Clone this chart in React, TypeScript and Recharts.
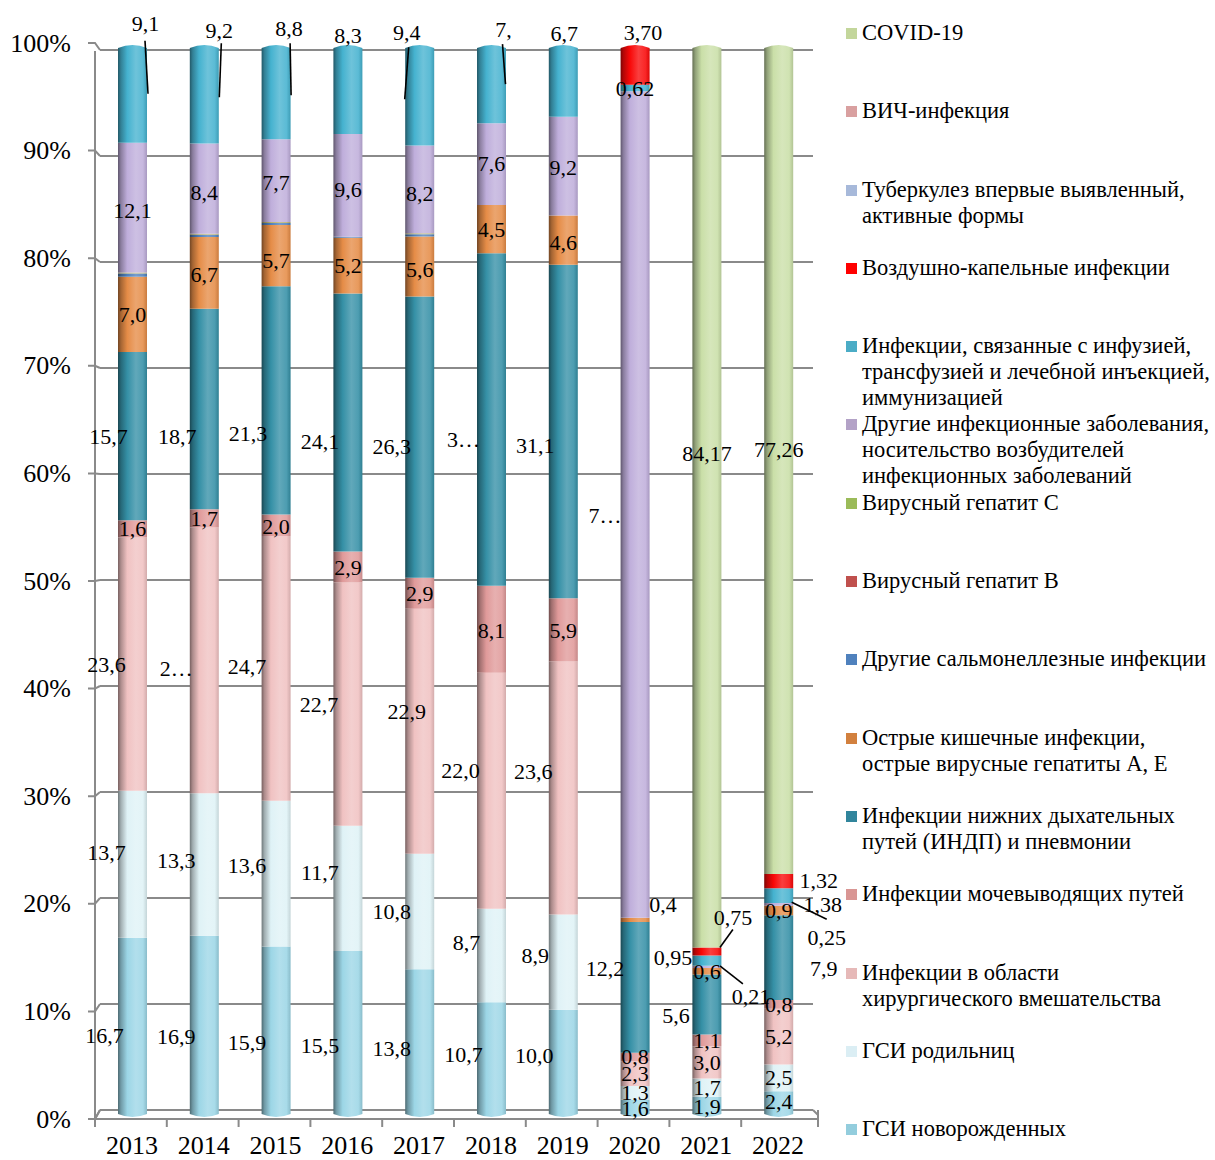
import React from 'react';
import { BarChart, Bar, XAxis, YAxis, CartesianGrid, LabelList, Legend } from 'recharts';

// ---- data: share of each infection group, % of all cases per year ----
const YEARS = ['2013', '2014', '2015', '2016', '2017', '2018', '2019', '2020', '2021', '2022'];

const NEWBORN = [16.7, 16.9, 15.9, 15.5, 13.8, 10.7, 10.0, 1.6, 1.9, 2.4];
const MOTHERS = [13.7, 13.3, 13.6, 11.7, 10.8, 8.7, 8.9, 1.3, 1.7, 2.5];
const SURGICAL = [23.6, 24.8, 24.7, 22.7, 22.9, 22.0, 23.6, 2.3, 3.0, 5.2];
const URINARY = [1.6, 1.7, 2.0, 2.9, 2.9, 8.1, 5.9, 0.8, 1.1, 0.8];
const LOWER_RESP = [15.7, 18.7, 21.3, 24.1, 26.3, 31.0, 31.1, 12.2, 5.6, 7.9];
const INTESTINAL = [7.0, 6.7, 5.7, 5.2, 5.6, 4.5, 4.6, 0.4, 0.6, 0.9];
const SALMONELLA = [0.3, 0.2, 0.2, 0.1, 0.2, 0, 0, 0, 0, 0];
const HEPATITIS_B = [0, 0, 0, 0, 0, 0, 0, 0, 0, 0];
const HEPATITIS_C = [0.1, 0.1, 0.1, 0, 0.1, 0, 0, 0, 0, 0];
const OTHER = [12.1, 8.4, 7.7, 9.6, 8.2, 7.6, 9.2, 77.1, 0.21, 0.25];
const INFUSION = [9.1, 9.2, 8.8, 8.3, 9.4, 7.3, 6.7, 0.62, 0.95, 1.38];
const AIRBORNE = [0, 0, 0, 0, 0, 0, 0, 3.7, 0.75, 1.32];
const TUBERCULOSIS = [0, 0, 0, 0, 0, 0, 0, 0, 0, 0];
const HIV = [0, 0, 0, 0, 0, 0, 0, 0, 0, 0];
const COVID = [0, 0, 0, 0, 0, 0, 0, 0, 84.17, 77.26];

const Y_TICKS = [0, 0.1, 0.2, 0.3, 0.4, 0.5, 0.6, 0.7, 0.8, 0.9, 1];

// stacking order, bottom first
const SERIES = [
  { key: 'newborn', name: 'ГСИ новорожденных', values: NEWBORN, legend: '#93cddd', bar: '#9cd6e6' },
  { key: 'mothers', name: 'ГСИ родильниц', values: MOTHERS, legend: '#dbeef4', bar: '#dff2f6' },
  { key: 'surgical', name: 'Инфекции в области\nхирургического вмешательства', values: SURGICAL, legend: '#e6b9b8', bar: '#f0c2c2' },
  { key: 'urinary', name: 'Инфекции мочевыводящих путей', values: URINARY, legend: '#d99694', bar: '#e09a9a' },
  { key: 'lowerResp', name: 'Инфекции нижних дыхательных\nпутей (ИНДП) и пневмонии', values: LOWER_RESP, legend: '#31859c', bar: '#3590a6' },
  { key: 'intestinal', name: 'Острые кишечные инфекции,\nострые вирусные гепатиты А, Е', values: INTESTINAL, legend: '#d2803e', bar: '#e58c47' },
  { key: 'salmonella', name: 'Другие сальмонеллезные инфекции', values: SALMONELLA, legend: '#4f81bd', bar: '#4f81bd' },
  { key: 'hepB', name: 'Вирусный гепатит В', values: HEPATITIS_B, legend: '#c0504d', bar: '#c0504d' },
  { key: 'hepC', name: 'Вирусный гепатит С', values: HEPATITIS_C, legend: '#9bbb59', bar: '#b8b070' },
  { key: 'other', name: 'Другие инфекционные заболевания,\nносительство возбудителей\nинфекционных заболеваний', values: OTHER, legend: '#b3a2c7', bar: '#bfaedb' },
  { key: 'infusion', name: 'Инфекции, связанные с инфузией,\nтрансфузией и лечебной инъекцией,\nиммунизацией', values: INFUSION, legend: '#4bacc6', bar: '#45b2cf' },
  { key: 'airborne', name: 'Воздушно-капельные инфекции', values: AIRBORNE, legend: '#ff0000', bar: '#f80808' },
  { key: 'tb', name: 'Туберкулез впервые выявленный,\nактивные формы', values: TUBERCULOSIS, legend: '#a7b9da', bar: '#95b3d7' },
  { key: 'hiv', name: 'ВИЧ-инфекция', values: HIV, legend: '#d9a0a0', bar: '#d99694' },
  { key: 'covid', name: 'COVID-19', values: COVID, legend: '#c3d69b', bar: '#cadfa8' },
];

const ROWS = YEARS.map((year, i) => {
  const row: Record<string, string | number> = { year };
  SERIES.forEach((s) => {
    row[s.key] = s.values[i];
  });
  return row;
});

// ---- layout ----
const W = 1215;
const H = 1160;
const PLOT_LEFT = 97;
const PLOT_RIGHT = 815;
const PLOT_TOP = 45;
const PLOT_BOTTOM = 1117;
const WALL_TOP = 50;
const WALL_BOTTOM = 1110;
const AXIS_TOP = 43;
const AXIS_BOTTOM = 1119;
const BAND = (PLOT_RIGHT - PLOT_LEFT) / YEARS.length;
const GRID = '#8a8a8a';
const FONT = '"Liberation Serif", "Times New Roman", serif';

const toWall = (y: number) => WALL_TOP + ((y - PLOT_TOP) * (WALL_BOTTOM - WALL_TOP)) / (PLOT_BOTTOM - PLOT_TOP);
const toFront = (y: number) => AXIS_TOP + ((y - PLOT_TOP) * (AXIS_BOTTOM - AXIS_TOP)) / (PLOT_BOTTOM - PLOT_TOP);

// ---- data label placement: nudges from the segment centre ----
type Nudge = [number, number];
const LABEL_NUDGE: Record<string, Nudge[]> = {
  newborn: [[-28, 8], [-28, 10], [-29, 11], [-28, 11], [-28, 5], [-28, -5], [-29, -8], [0, 0], [0, 0], [0, -3]],
  mothers: [[-26, -12], [-28, -4], [-29, -8], [-28, -16], [-28, 0], [-25, -13], [-28, -7], [0, 0], [0, 0], [0, 0]],
  surgical: [[-26, 0], [-28, 8], [-29, -2], [-29, 0], [-13, -20], [-31, -20], [-30, -16], [0, 0], [0, 0], [0, 0]],
  urinary: [[0, 0], [0, 0], [0, 1], [0, 0], [0, 0], [0, 1], [0, 1], [0, 0], [0, 0], [0, 0]],
  lowerResp: [[-24, 0], [-27, 28], [-28, 33], [-28, 19], [-28, 9], [-28, 20], [-28, 14], [-30, -19], [-31, 11], [45, 11]],
  intestinal: [[0, 0], [0, 2], [0, 5], [0, 0], [0, 3], [0, 0], [0, 2], [28, -15], [0, 0], [0, 0]],
  other: [[0, 3], [0, 4], [0, 2], [0, 4], [0, 4], [0, -1], [0, 1], [-30, 11], [44, 30], [48, 33]],
  infusion: [[13, -70], [15, -64], [13, -64], [0, -54], [-13, -63], [12, -55], [1, -47], [0, 1], [-34, -3], [44, 9]],
  airborne: [[0, 0], [0, 0], [0, 0], [0, 0], [0, 0], [0, 0], [0, 0], [8, -32], [26, -34], [40, -1]],
  covid: [[0, 0], [0, 0], [0, 0], [0, 0], [0, 0], [0, 0], [0, 0], [0, 0], [0, -43], [0, -10]],
};

// leader lines [x1, y1, x2, y2] relative to the segment centre
type Leader = [number, number, number, number] | null;
const LEADERS: Record<string, Leader[]> = {
  infusion: [[12.5, -53, 15.5, 0], [17, -51, 15, 3], [14, -49, 15, 3], null, [-11, -48, -15, 4], [11, -40, 14, 0], null, null, null, null],
  airborne: [null, null, null, null, null, null, null, null, [13, -4, 26, -22], null],
  other: [null, null, null, null, null, null, null, null, [13, -1, 36, 17], [13, -2, 48, 15]],
};

// labels shortened where they did not fit
const LABEL_TEXT: Record<string, string> = {
  'surgical:1': '2…',
  'lowerResp:5': '3…',
  'infusion:5': '7,',
  'other:7': '7…',
};

const decimals = (key: string, i: number) => {
  if (key === 'covid' || key === 'airborne') return 2;
  if (key === 'infusion' && i >= 7) return 2;
  if (key === 'other' && i >= 8) return 2;
  return 1;
};

const formatValue = (v: number, digits: number) => v.toFixed(digits).replace('.', ',');

// ---- colour helpers for the cylinder shading ----
const hexToRgb = (hex: string) => {
  const n = parseInt(hex.slice(1), 16);
  return [(n >> 16) & 255, (n >> 8) & 255, n & 255];
};
const mix = (hex: string, amt: number) => {
  const [r, g, b] = hexToRgb(hex);
  const f = (c: number) => {
    const v = amt < 0 ? c * (1 + amt) : c + (255 - c) * amt;
    return Math.max(0, Math.min(255, Math.round(v)));
  };
  return `rgb(${f(r)},${f(g)},${f(b)})`;
};

const CylinderShape = (props: any) => {
  const { x, y, width, height, fill } = props;
  if (!height || height <= 0.05 || !width) return null;
  const top = Math.min(y, y + height);
  const bottom = Math.max(y, y + height);
  const cap = 3;
  const isTop = Math.abs(top - PLOT_TOP) < 0.8;
  const isBottom = Math.abs(bottom - PLOT_BOTTOM) < 0.8;
  const tc = isTop && bottom - top > cap * 2 ? cap : 0;
  const bc = isBottom && bottom - top > cap * 2 ? cap : 0;
  const r = x + width;
  const m = x + width / 2;
  const d = [
    `M ${x} ${top + tc}`,
    `Q ${m} ${top - tc} ${r} ${top + tc}`,
    `L ${r} ${bottom - bc}`,
    `Q ${m} ${bottom + bc} ${x} ${bottom - bc}`,
    'Z',
  ].join(' ');
  return <path d={d} fill={fill} stroke="none" />;
};

const makeLabel = (key: string) => (props: any) => {
  const index: number = props.index;
  const series = SERIES.find((s) => s.key === key);
  if (!series || index == null) return null;
  const raw = series.values[index];
  if (!raw) return null;
  const vb = props.viewBox && props.viewBox.width != null ? props.viewBox : props;
  const { x, y, width, height } = vb;
  const top = Math.min(y, y + height);
  const h = Math.abs(height);
  const cx = x + width / 2;
  const cy = top + h / 2;
  const nudge = (LABEL_NUDGE[key] && LABEL_NUDGE[key][index]) || [0, 0];
  const lead = LEADERS[key] ? LEADERS[key][index] : null;
  const text = LABEL_TEXT[`${key}:${index}`] ?? formatValue(raw, decimals(key, index));
  return (
    <g>
      {lead && (
        <line x1={cx + lead[0]} y1={cy + lead[1]} x2={cx + lead[2]} y2={cy + lead[3]} stroke="#000" strokeWidth={1.6} />
      )}
      <text
        x={cx + nudge[0]}
        y={cy + nudge[1]}
        textAnchor="middle"
        dominantBaseline="central"
        fontFamily={FONT}
        fontSize={22}
        fill="#000"
      >
        {text}
      </text>
    </g>
  );
};

const LABELED = new Set(['newborn', 'mothers', 'surgical', 'urinary', 'lowerResp', 'intestinal', 'other', 'infusion', 'airborne', 'covid']);

// back-wall grid lines, plus the floor and the vertical axis line
const GridLine = (props: any) => {
  const { x1, x2, y1 } = props;
  const yw = toWall(y1);
  const isFloor = y1 >= PLOT_BOTTOM - 1;
  return (
    <g key={props.key}>
      <line x1={x1 + 3} x2={x2 - 2} y1={yw} y2={yw} stroke={GRID} strokeWidth={2} />
      {isFloor && (
        <g>
          <line x1={x1 - 2} x2={x1 - 2} y1={toWall(PLOT_TOP) + 1} y2={AXIS_BOTTOM} stroke={GRID} strokeWidth={2} />
          <line x1={x1 - 2} x2={x2 + 3} y1={AXIS_BOTTOM} y2={AXIS_BOTTOM} stroke={GRID} strokeWidth={2} />
          <line x1={x1 - 2} x2={x1 + 3} y1={AXIS_BOTTOM} y2={yw} stroke={GRID} strokeWidth={2} />
          <line x1={x2 - 2} x2={x2 + 3} y1={yw} y2={yw + 5} stroke={GRID} strokeWidth={2} />
          <line x1={x2 + 3} x2={x2 + 3} y1={yw} y2={AXIS_BOTTOM + 8} stroke={GRID} strokeWidth={2} />
        </g>
      )}
    </g>
  );
};

const YTick = (props: any) => {
  const { y, payload } = props;
  const yF = toFront(y);
  const yW = toWall(y);
  return (
    <g>
      <polyline points={`88,${yF} 95,${yF} 100,${yW}`} fill="none" stroke={GRID} strokeWidth={2} />
      <text x={71} y={yF} textAnchor="end" dominantBaseline="central" fontFamily={FONT} fontSize={26} fill="#000">
        {`${Math.round(payload.value * 100)}%`}
      </text>
    </g>
  );
};

const XTick = (props: any) => {
  const { x, payload } = props;
  const left = x - BAND / 2 - 2;
  return (
    <g>
      <line x1={left} x2={left} y1={AXIS_BOTTOM} y2={AXIS_BOTTOM + 8} stroke={GRID} strokeWidth={2} />
      <text x={x - 1} y={PLOT_BOTTOM + 37} textAnchor="middle" fontFamily={FONT} fontSize={26} fill="#000">
        {payload.value}
      </text>
    </g>
  );
};

// legend listed top-down in the reverse of the stacking order
const LegendBlock = () => {
  const items = [...SERIES].reverse();
  return (
    <div style={{ fontFamily: FONT, color: '#000' }}>
      {items.map((s) => (
        <div key={s.key} style={{ position: 'relative', height: 78.3, paddingLeft: 17, boxSizing: 'border-box' }}>
          <span style={{ position: 'absolute', left: 1, top: 8, width: 11, height: 11, background: s.legend }} />
          <div style={{ fontSize: 22.5, lineHeight: '26px', whiteSpace: 'pre-line' }}>{s.name}</div>
        </div>
      ))}
    </div>
  );
};

export default function App() {
  return (
    <div style={{ position: 'absolute', left: 0, top: 0, width: W, height: H, background: '#fff' }}>
      <BarChart
        width={W}
        height={H}
        data={ROWS}
        stackOffset="expand"
        barSize={29}
        margin={{ top: PLOT_TOP, right: W - PLOT_RIGHT, bottom: 0, left: 0 }}
      >
        <defs>
          {SERIES.map((s) => (
            <linearGradient key={s.key} id={`grad-${s.key}`} x1="0" y1="0" x2="1" y2="0">
              <stop offset="0" stopColor={mix(s.bar, -0.5)} />
              <stop offset="0.1" stopColor={mix(s.bar, -0.28)} />
              <stop offset="0.32" stopColor={mix(s.bar, 0)} />
              <stop offset="0.62" stopColor={mix(s.bar, 0.22)} />
              <stop offset="0.86" stopColor={mix(s.bar, 0.12)} />
              <stop offset="1" stopColor={mix(s.bar, -0.12)} />
            </linearGradient>
          ))}
        </defs>
        <CartesianGrid vertical={false} horizontal={GridLine} />
        <XAxis
          dataKey="year"
          height={H - PLOT_BOTTOM}
          axisLine={false}
          tickLine={false}
          interval={0}
          tick={XTick}
        />
        <YAxis
          type="number"
          domain={[0, 1]}
          ticks={Y_TICKS}
          width={PLOT_LEFT}
          axisLine={false}
          tickLine={false}
          tick={YTick}
        />
        <Legend
          layout="horizontal"
          align="center"
          verticalAlign="middle"
          wrapperStyle={{ position: 'absolute', left: 845, top: 20, width: 370 }}
          content={LegendBlock}
        />
        {SERIES.map((s) => (
          <Bar
            key={s.key}
            dataKey={s.key}
            name={s.name}
            stackId="share"
            fill={`url(#grad-${s.key})`}
            shape={(p: any) => <CylinderShape {...p} />}
            isAnimationActive={false}
          >
            {LABELED.has(s.key) && <LabelList dataKey={s.key} content={makeLabel(s.key)} />}
          </Bar>
        ))}
      </BarChart>
    </div>
  );
}
